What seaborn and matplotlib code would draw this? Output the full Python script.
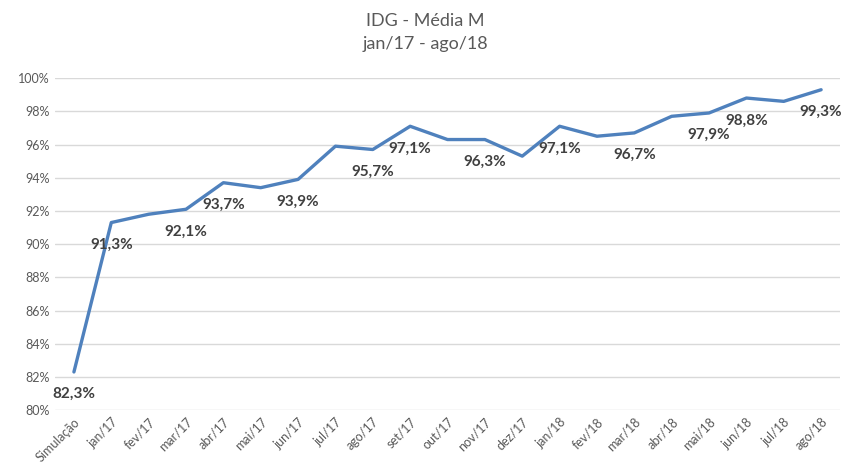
import matplotlib
matplotlib.use("Agg")
import matplotlib.pyplot as plt
import seaborn as sns
import pandas as pd

# data
meses = ["Simulação", "jan/17", "fev/17", "mar/17", "abr/17", "mai/17", "jun/17",
         "jul/17", "ago/17", "set/17", "out/17", "nov/17", "dez/17", "jan/18",
         "fev/18", "mar/18", "abr/18", "mai/18", "jun/18", "jul/18", "ago/18"]
idg = [82.3, 91.3, 91.8, 92.1, 93.7, 93.4, 93.9, 95.9, 95.7, 97.1, 96.3,
       96.3, 95.3, 97.1, 96.5, 96.7, 97.7, 97.9, 98.8, 98.6, 99.3]
# which points get a data label
rotulados = ["Simulação", "jan/17", "mar/17", "abr/17", "jun/17", "ago/17", "set/17",
             "nov/17", "jan/18", "mar/18", "mai/18", "jun/18", "ago/18"]

df = pd.DataFrame({"mes": meses, "idg": idg})

sns.set_style("white")
plt.rcParams["font.family"] = ["Lato", "DejaVu Sans"]

fig = plt.figure(figsize=(8.5, 4.65), dpi=100)
ax = fig.add_axes([0.065, 0.118, 0.923, 0.714])

sns.lineplot(data=df, x="mes", y="idg", sort=False, color="#4F81BD",
             linewidth=2.4, ax=ax)

ax.set_ylim(80, 100)
ax.set_yticks(range(80, 101, 2))
ax.set_yticklabels([f"{v}%" for v in range(80, 101, 2)], fontsize=9, color="#595959")
ax.set_xlim(-0.5, len(meses) - 0.5)
ax.set_xticks(range(len(meses)))
ax.set_xticklabels(meses, rotation=45, ha="right", rotation_mode="anchor",
                   fontsize=9, color="#595959")
ax.tick_params(axis="both", length=0, pad=4)
ax.grid(axis="y", color="#D9D9D9", linewidth=1)
ax.set_axisbelow(True)
for s in ax.spines.values():
    s.set_visible(False)
ax.set_xlabel("")
ax.set_ylabel("")

for i, (m, v) in enumerate(zip(meses, idg)):
    if m in rotulados:
        ax.annotate(f"{v:.1f}%".replace(".", ","), (i, v), xytext=(0, -11),
                    textcoords="offset points", ha="center", va="top",
                    fontsize=11, fontweight="bold", color="#404040")

fig.text(0.5, 0.955, "IDG - Média M", ha="center", va="center",
         fontsize=13, color="#595959")
fig.text(0.5, 0.905, "jan/17 - ago/18", ha="center", va="center",
         fontsize=13, color="#595959")

fig.savefig("out.png", dpi=100)
